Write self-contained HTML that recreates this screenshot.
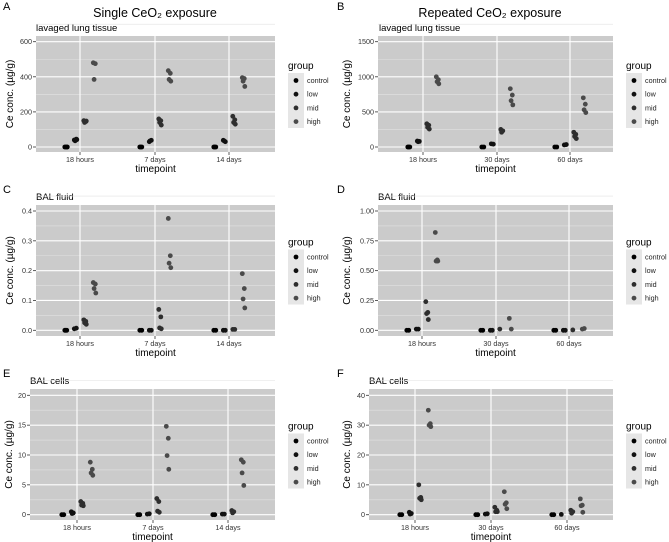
<!DOCTYPE html>
<html><head><meta charset="utf-8"><style>
html,body{margin:0;padding:0;background:#fff}
svg{display:block;font-family:"Liberation Sans","DejaVu Sans",sans-serif}
</style></head><body>
<svg id="fig" width="669" height="542" viewBox="0 0 669 542">
<text x="155" y="17" font-size="12.5" text-anchor="middle">Single CeO₂ exposure</text>
<text x="490" y="17" font-size="12.5" text-anchor="middle">Repeated CeO₂ exposure</text>
</svg>
<script>
// ---- data ----
const groups = ["control","low","mid","high"];
const groupColors = ["#000000","#111111","#2e2e2e","#4a4a4a"];
const catsSingle = ["18 hours","7 days","14 days"];
const catsRepeated = ["18 hours","30 days","60 days"];
const ticksA = [0,200,400,600];
const ticksB = [0,500,1000,1500];
const ticksC = [0,0.1,0.2,0.3,0.4];
const ticksD = [0,0.25,0.5,0.75,1.0];
const ticksE = [0,5,10,15,20];
const ticksF = [0,10,20,30,40];
const labelsC = ["0.0","0.1","0.2","0.3","0.4"];
const labelsD = ["0.00","0.25","0.50","0.75","1.00"];
const valuesA = [
 [[0,0,0,0],[40,45,35,42],[150,145,140,148],[480,475,385]],
 [[0,0,0],[30,38,35],[160,150,140,125],[435,420,385,375]],
 [[0,0,0],[38,30,35],[175,155,140,130],[395,390,375,345]]];
const valuesB = [
 [[0,0,0],[85,80,75],[330,310,280,255],[1000,960,930,900]],
 [[0,0],[45,40],[250,230,210],[830,740,660,600]],
 [[0,0],[30,35],[210,180,150,120],[700,610,530,490]]];
const valuesC = [
 [[0,0,0],[0.005,0.007],[0.035,0.03,0.025,0.02],[0.16,0.155,0.14,0.125]],
 [[0,0],[0,0],[0.07,0.045,0.008,0.005],[0.375,0.25,0.225,0.21]],
 [[0,0],[0,0],[0.003,0.003],[0.19,0.14,0.105,0.075]]];
const valuesD = [
 [[0,0],[0.01,0.01],[0.24,0.15,0.14,0.09],[0.82,0.59,0.58,0.58]],
 [[0,0],[0,0],[0.01],[0.1,0.01]],
 [[0,0],[0,0],[0.003],[0.01,0.015]]];
const valuesE = [
 [[0,0],[0.5,0.3,0.2],[2.2,1.9,1.6,1.5],[8.8,7.6,7.0,6.6]],
 [[0,0],[0.1,0.15],[2.7,2.2,0.6,0.4],[14.8,12.8,9.9,7.6]],
 [[0,0],[0.1,0.1],[0.7,0.5,0.3],[9.2,8.8,7.0,4.9]]];
const valuesF = [
 [[0,0],[0.8,0.4,0.2],[10,5.8,5.5,5],[35,30.5,30,29.5]],
 [[0,0],[0.2,0.3],[2.5,1.5,1,1],[7.7,4,3.5,2]],
 [[0,0],[0.1],[1.5,1,0.5],[5.3,3.2,3,0.8]]];

const NS="http://www.w3.org/2000/svg";
const svg=document.getElementById('fig');
function mk(tag,attrs,parent){const e=document.createElementNS(NS,tag);for(const k in attrs)e.setAttribute(k,attrs[k]);(parent||svg).appendChild(e);return e;}
const dodge=[-14,-4.5,5,14.5];
const jit=[-1.2,0.8,-0.4,1.3,0];

function panel(cfg){
  const g=mk('g',{});
  
  
  const L=cfg.x0,R=cfg.x1,T=cfg.y0,B=cfg.y1;
  const tmax=cfg.ticks[cfg.ticks.length-1];
  const y=v=>cfg.py0+(cfg.pyTop-cfg.py0)*v/tmax;
  const x=i=>cfg.cx[i];
  let t=mk('text',{x:cfg.lx,y:cfg.ly,'font-size':11},g);t.textContent=cfg.id;
  
  t=mk('text',{x:cfg.sx,y:T-5,'font-size':9.5},g);t.textContent=cfg.sub;
  
  const bg=mk('rect',{x:L,y:T,width:R-L,height:B-T,fill:'#cbcbcb'},g);
  
  const step=y(cfg.ticks[0])-y(cfg.ticks[1]);
  for(let i=0;i<cfg.ticks.length;i++){
    const m=y(cfg.ticks[i])-step/2;
    mk('line',{x1:L,x2:R,y1:m,y2:m,stroke:'#e2e2e2','stroke-width':0.6},g);
  }
  cfg.ticks.forEach((v,i)=>{
    const yy=y(v);
    const gl=mk('line',{x1:L,x2:R,y1:yy,y2:yy,stroke:'#fff','stroke-width':1.1},g);
    
    mk('line',{x1:L-3,x2:L,y1:yy,y2:yy,stroke:'#333','stroke-width':0.8},g);
    const tl=mk('text',{x:L-4,y:yy+2.5,'font-size':7.2,'text-anchor':'end',fill:'#333'},g);
    tl.textContent=cfg.labels?cfg.labels[i]:String(v);
    
  });
  cfg.cats.forEach((c,i)=>{
    const xx=x(i);
    const gl=mk('line',{x1:xx,x2:xx,y1:T,y2:B,stroke:'#fff','stroke-width':1.1},g);
    
    mk('line',{x1:xx,x2:xx,y1:B,y2:B+3,stroke:'#333','stroke-width':0.8},g);
    const tl=mk('text',{x:xx,y:B+10,'font-size':7.2,'text-anchor':'middle',fill:'#333'},g);
    tl.textContent=c;
    
  });
  cfg.values.forEach((cat,ci)=>{
    cat.forEach((vals,gi)=>{
      vals.forEach((v,k)=>{
        const p=mk('circle',{cx:x(ci)+dodge[gi]+jit[k%5],cy:y(v),r:2.4,fill:groupColors[gi]},g);
        
        
      });
    });
  });
  t=mk('text',{x:(L+R)/2,y:B+20,'font-size':10,'text-anchor':'middle'},g);t.textContent='timepoint';
  
  const ym=(T+B)/2;
  t=mk('text',{x:cfg.yt,y:ym,'font-size':10,'text-anchor':'middle',transform:`rotate(-90 ${cfg.yt} ${ym})`},g);
  t.textContent='Ce conc. (µg/g)';
  
  const lg=mk('g',{},g);
  
  const lx=R+13, lt=ym-25;
  t=mk('text',{x:lx,y:lt,'font-size':10},lg);t.textContent='group';
  
  mk('rect',{x:lx,y:lt+4,width:16,height:55,fill:'#e6e6e6'},lg);
  groups.forEach((gn,i)=>{
    const ky=lt+11.5+i*13.7;
    const e=mk('g',{},lg);
    
    mk('circle',{cx:lx+8,cy:ky,r:2.4,fill:groupColors[i]},e);
    const tx=mk('text',{x:lx+19,y:ky+2.5,'font-size':7.2,fill:'#222'},e);tx.textContent=gn;
  });
}
panel({id:'A',sub:'lavaged lung tissue',lx:3,ly:10,sx:36,x0:36,x1:275,y0:36,y1:152,py0:147,pyTop:41.7,yt:13,ticks:ticksA,cats:catsSingle,cx:[80,155,229],values:valuesA});
panel({id:'B',sub:'lavaged lung tissue',lx:337,ly:10,sx:379,x0:378,x1:613,y0:36,y1:152,py0:147,pyTop:41.7,yt:350,ticks:ticksB,cats:catsRepeated,cx:[423,497,570],values:valuesB});
panel({id:'C',sub:'BAL fluid',lx:3,ly:193,sx:36,x0:36,x1:275,y0:205,y1:336,py0:330.3,pyTop:211,yt:13,ticks:ticksC,labels:labelsC,cats:catsSingle,cx:[80,155,229],values:valuesC});
panel({id:'D',sub:'BAL fluid',lx:337,ly:193,sx:378,x0:378,x1:613,y0:205,y1:336,py0:330.3,pyTop:211,yt:350,ticks:ticksD,labels:labelsD,cats:catsRepeated,cx:[422,496,569],values:valuesD});
panel({id:'E',sub:'BAL cells',lx:3,ly:377,sx:30,x0:30,x1:275,y0:389,y1:520,py0:514.7,pyTop:395.3,yt:12,ticks:ticksE,cats:catsSingle,cx:[77,153,228],values:valuesE});
panel({id:'F',sub:'BAL cells',lx:337,ly:377,sx:369,x0:369,x1:613,y0:389,y1:520,py0:514.7,pyTop:395.3,yt:350,ticks:ticksF,cats:catsRepeated,cx:[415,491,567],values:valuesF});
</script>
</body></html>
